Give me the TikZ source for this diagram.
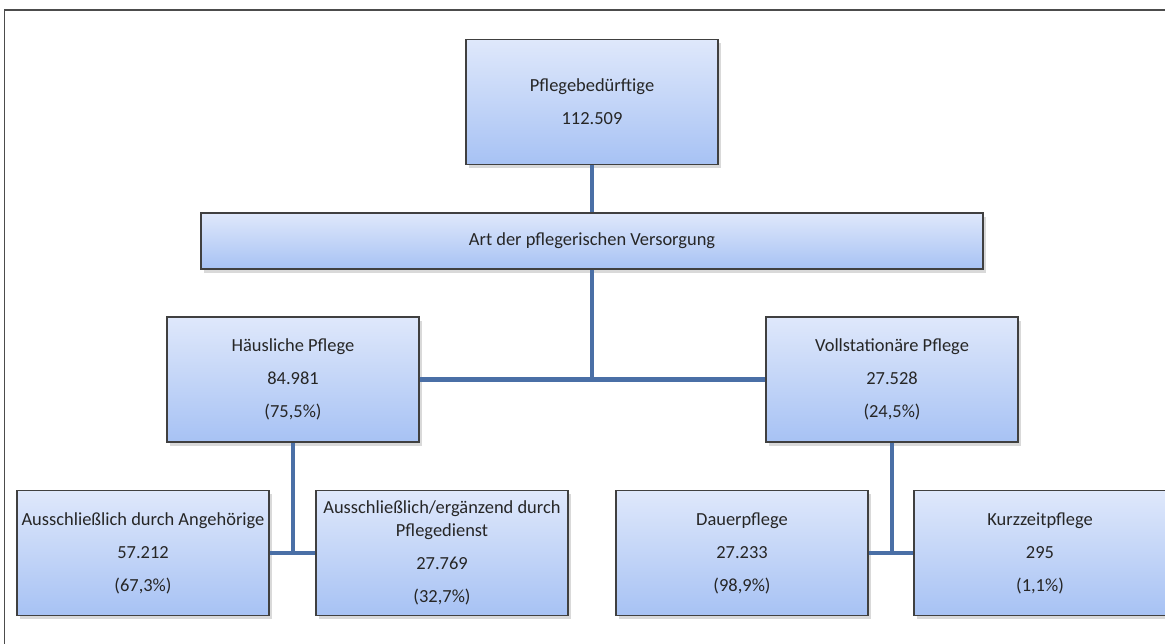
\documentclass[tikz,border=0pt]{standalone}
\usepackage{fontspec}
\setmainfont{Carlito}
\usetikzlibrary{shadows}
\definecolor{boxtop}{HTML}{DFE8FB}
\definecolor{boxbot}{HTML}{A7C2F4}
\definecolor{linkblue}{HTML}{4A6FA6}
\definecolor{rim}{HTML}{404040}
\tikzset{
  pflegebox/.style={draw=rim, line width=0.8pt, top color=boxtop, bottom color=boxbot,
    minimum width=5.04cm, minimum height=2.5cm, inner xsep=0pt, align=center,
    text=black!85, font=\fontsize{10.5}{12.8}\selectfont,
    drop shadow={opacity=0.3, shadow xshift=1.5pt, shadow yshift=-2pt}},
  link/.style={draw=linkblue, line width=2.6pt}
}
\begin{document}
\begin{tikzpicture}[x=0.02cm, y=-0.02cm]
  \useasboundingbox (0,0) rectangle (1165,643);
  \draw[black!70, line width=0.8pt] (4.5,10) rectangle (1190,670);

  \node [pflegebox] (pb) at (592,102) {Pflegebedürftige\\[6pt]112.509};
  \node [pflegebox, minimum width=15.64cm, minimum height=1.12cm] (art) at (592,241)
        {Art der pflegerischen Versorgung};
  \node [pflegebox] (haus) at (293,379.5) {Häusliche Pflege\\[6pt]84.981\\[6pt](75,5\%)};
  \node [pflegebox] (voll) at (892,379.5) {Vollstationäre Pflege\\[6pt]27.528\\[6pt](24,5\%)};
  \node [pflegebox] (ang) at (143,553)
        {Ausschließlich durch Angehörige\\[6pt]57.212\\[6pt](67,3\%)};
  \node [pflegebox] (dienst) at (442,553)
        {Ausschließlich/ergänzend durch\\Pflegedienst\\[6pt]27.769\\[6pt](32,7\%)};
  \node [pflegebox] (dauer) at (742,553) {Dauerpflege\\[6pt]27.233\\[6pt](98,9\%)};
  \node [pflegebox] (kurz) at (1040,553) {Kurzzeitpflege\\[6pt]295\\[6pt](1,1\%)};

  % verbindungen
  \draw [link] (pb) -- (art);
  \draw [link] (art) -- (art.south |- haus.east);
  \draw [link] (haus) -- (voll);
  \draw [link] (haus) -- (haus.south |- ang.east);
  \draw [link] (ang) -- (dienst);
  \draw [link] (voll) -- (voll.south |- dauer.east);
  \draw [link] (dauer) -- (kurz);
\end{tikzpicture}
\end{document}
